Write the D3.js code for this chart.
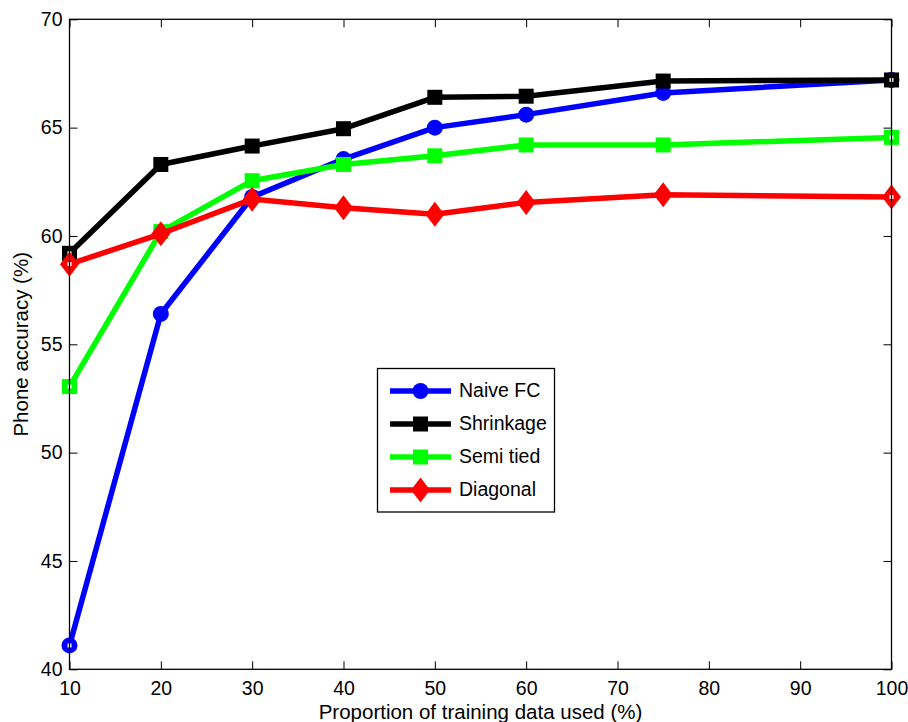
<!DOCTYPE html>
<html><head><meta charset="utf-8">
<script src="https://cdn.jsdelivr.net/npm/d3@7"></script>
<style>body{margin:0;background:#fff}svg{display:block}text{font-family:"Liberation Sans",Arial,sans-serif;fill:#000}</style>
</head><body><svg id="c" width="908" height="722"></svg>
<script>
const xValues = [10, 20, 30, 40, 50, 60, 75, 100];
const naiveFC   = [41.1, 56.4, 61.8, 63.55, 65.0, 65.6, 66.6, 67.2];
const shrinkage = [59.2, 63.3, 64.15, 64.95, 66.4, 66.45, 67.15, 67.2];
const semiTied  = [53.05, 60.2, 62.55, 63.3, 63.7, 64.2, 64.2, 64.55];
const diagonal  = [58.7, 60.1, 61.7, 61.3, 61.0, 61.55, 61.9, 61.8];
const seriesNames = ["Naive FC", "Shrinkage", "Semi tied", "Diagonal"];
const xTicks = [10, 20, 30, 40, 50, 60, 70, 80, 90, 100];
const yTicks = [40, 45, 50, 55, 60, 65, 70];
const xLabel = "Proportion of training data used (%)";
const yLabel = "Phone accuracy (%)";

const series = [
  {name: seriesNames[0], values: naiveFC, color: "#0000ff", marker: "circle"},
  {name: seriesNames[1], values: shrinkage, color: "#000000", marker: "square"},
  {name: seriesNames[2], values: semiTied, color: "#00ff00", marker: "square"},
  {name: seriesNames[3], values: diagonal, color: "#ff0000", marker: "diamond"}
];

const L = 69.5, R = 891.5, T = 19.3, B = 669.3;
const FONT = '"Liberation Sans",Arial,sans-serif';
const svg = d3.select("#c");
const x = d3.scaleLinear().domain([10, 100]).range([L, R]);
const y = d3.scaleLinear().domain([40, 70]).range([B, T]);

function drawMarker(g, type, color, cx, cy) {
  if (type === "circle") {
    g.append("circle").attr("cx", cx).attr("cy", cy).attr("r", 8).attr("fill", color);
  } else if (type === "square") {
    g.append("rect").attr("x", cx - 7.5).attr("y", cy - 7.5).attr("width", 15).attr("height", 15).attr("fill", color);
  } else {
    g.append("path").attr("d", `M${cx},${cy - 12.5}L${cx + 9.5},${cy}L${cx},${cy + 12.5}L${cx - 9.5},${cy}Z`).attr("fill", color);
  }
}

const line = d3.line().x(d => x(d[0])).y(d => y(d[1]));
series.forEach(s => {
  const pts = xValues.map((xv, i) => [xv, s.values[i]]);
  const g = svg.append("g");
  g.append("path").attr("d", line(pts)).attr("fill", "none").attr("stroke", s.color)
    .attr("stroke-width", 5.5).attr("stroke-linejoin", "round");
  pts.forEach(p => {
    drawMarker(g, s.marker, s.color, x(p[0]), y(p[1]));
    if (p[0] === x.domain()[0] || p[0] === x.domain()[1]) {
      g.append("rect").attr("x", x(p[0]) - 2).attr("y", y(p[1]) - 2).attr("width", 4).attr("height", 4).attr("fill", "#fff");
    }
  });
});

// axes box with inward ticks (drawn over the data)
const tl = 8;
svg.append("g").attr("transform", `translate(0,${B})`)
  .call(d3.axisBottom(x).tickValues(xTicks).tickSizeInner(-tl).tickSizeOuter(0).tickPadding(12))
  .call(g => g.select(".domain").remove());
svg.append("g").attr("transform", `translate(0,${T})`)
  .call(d3.axisTop(x).tickValues(xTicks).tickSizeInner(-tl).tickSizeOuter(0).tickFormat(""))
  .call(g => g.select(".domain").remove());
svg.append("g").attr("transform", `translate(${L},0)`)
  .call(d3.axisLeft(y).tickValues(yTicks).tickSizeInner(-tl).tickSizeOuter(0).tickPadding(7))
  .call(g => g.select(".domain").remove());
svg.append("g").attr("transform", `translate(${R},0)`)
  .call(d3.axisRight(y).tickValues(yTicks).tickSizeInner(-tl).tickSizeOuter(0).tickFormat(""))
  .call(g => g.select(".domain").remove());
svg.selectAll(".tick line").attr("stroke", "#000").attr("stroke-width", 1);
svg.selectAll(".tick text").attr("font-size", 19.5).attr("font-family", FONT).attr("fill", "#000");
svg.append("rect").attr("x", L).attr("y", T).attr("width", R - L).attr("height", B - T)
  .attr("fill", "none").attr("stroke", "#000").attr("stroke-width", 1.3);

// axis labels
svg.append("text").attr("x", (L + R) / 2).attr("y", 719).attr("text-anchor", "middle")
  .attr("font-size", 20.5).text(xLabel);
svg.append("text").attr("transform", `translate(27.5,${(T + B) / 2}) rotate(-90)`)
  .attr("text-anchor", "middle").attr("font-size", 20.5).text(yLabel);

// legend
const lg = svg.append("g");
lg.append("rect").attr("x", 377.5).attr("y", 368.5).attr("width", 177).attr("height", 143.5)
  .attr("fill", "#fff").attr("stroke", "#000").attr("stroke-width", 1.3);
const rowY = [391, 424, 457, 490];
series.forEach((s, i) => {
  const yy = rowY[i];
  lg.append("line").attr("x1", 390).attr("x2", 451).attr("y1", yy).attr("y2", yy)
    .attr("stroke", s.color).attr("stroke-width", 5.5);
  drawMarker(lg, s.marker, s.color, 420.5, yy);
  lg.append("text").attr("x", 459).attr("y", yy + 5.5).attr("font-size", 19.5).text(s.name);
});
</script></body></html>
